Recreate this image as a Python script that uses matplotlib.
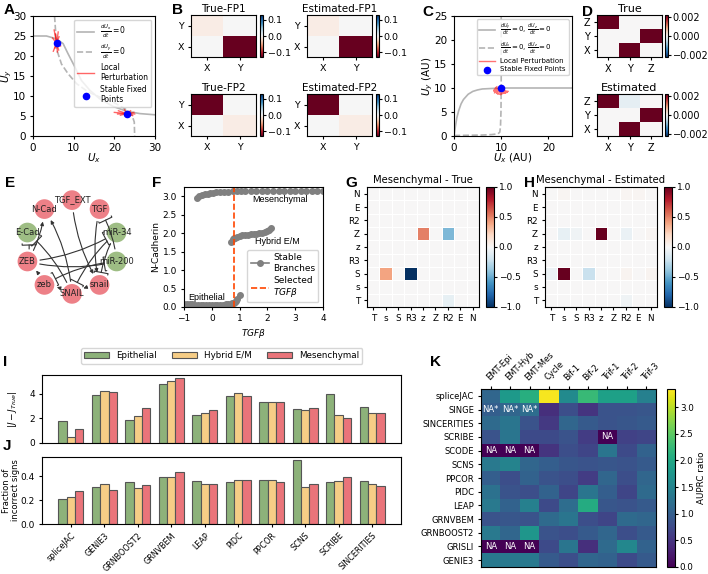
import matplotlib.pyplot as plt
import matplotlib.patches as mpatches
from matplotlib.lines import Line2D
import numpy as np

plt.rcParams['font.size'] = 7
plt.rcParams['xtick.major.size'] = 2.5
plt.rcParams['ytick.major.size'] = 2.5
plt.rcParams['xtick.major.pad'] = 2.5
plt.rcParams['ytick.major.pad'] = 2.5
plt.rcParams['axes.linewidth'] = 0.8

#------------------DATA------------------#

# A - nullclines (two-gene toggle switch)
a_solid_x = [0, 3.3, 5.75, 7.4, 8.6, 10.3, 11.9, 14.0, 16.4, 19.7, 23.0, 26.3, 30.0]
a_solid_y = [25, 25, 24.3, 23.1, 20.6, 17.25, 13.9, 11.4, 9.3, 7.4, 6.2, 5.6, 5.3]
a_dash_x = [5.3, 5.6, 5.9, 7.0, 8.6, 10.7, 13.6, 16.4, 19.7, 22.6, 24.2, 24.9, 25.0]
a_dash_y = [30, 25.6, 21.4, 18.0, 15.6, 13.1, 11.0, 9.75, 8.5, 6.8, 5.6, 3.5, 0]
a_fp_x = [5.8, 23.0]
a_fp_y = [23.2, 5.6]
a_pert_1 = [(5.2, 26.5), (6.2, 26.0), (5.0, 21.2), (6.3, 21.5), (4.8, 24.5), (6.8, 22.5),
            (5.5, 25.5), (6.0, 21.0), (5.4, 22.0), (6.4, 24.8)]
a_pert_2 = [(20.0, 5.9), (25.0, 5.5), (21.0, 6.3), (24.5, 5.1), (21.5, 5.2), (24.0, 6.3),
            (22.5, 6.6), (23.2, 4.9), (20.8, 5.5), (24.8, 5.9)]

# B - jacobians at the two fixed points (rows X, Y ; cols X, Y)
b_genes = ['X', 'Y']
b_true_fp1 = [[0.0, -0.2], [-0.01, 0.0]]
b_est_fp1 = [[0.0, -0.2], [-0.01, 0.0]]
b_true_fp2 = [[0.0, -0.01], [-0.2, 0.0]]
b_est_fp2 = [[0.0, -0.01], [-0.2, 0.0]]

# C - three-gene oscillator projection
c_solid_x = [0, 0.3, 0.6, 1.0, 1.5, 2.0, 3.0, 4.0, 5.0, 6.0, 8.0, 10.0, 15.0, 25.0]
c_solid_y = [0, 2.0, 3.8, 5.3, 6.7, 7.6, 8.7, 9.3, 9.6, 9.8, 9.9, 10.0, 10.0, 10.0]
c_dash_x = [0, 3.0, 6.0, 8.0, 9.3, 9.7, 9.85, 9.95, 10.0, 10.0]
c_dash_y = [0.1, 0.15, 0.2, 0.3, 0.45, 0.8, 2.0, 5.0, 10.0, 25.0]
c_fp = (10.0, 10.0)
c_pert_x = [8.6, 9.1, 8.4, 9.3, 8.9, 9.6, 10.4, 11.3, 10.6, 11.5, 10.2, 9.4, 8.8, 9.8, 10.9, 9.2,
            8.5, 9.9, 10.7, 9.0]
c_pert_y = [9.0, 10.3, 9.5, 8.7, 9.8, 9.1, 8.9, 9.1, 9.4, 9.3, 8.8, 9.6, 10.1, 9.2, 9.0, 9.9,
            9.3, 8.6, 9.7, 9.4]

# D - jacobian of the 3-gene circuit (rows X, Y, Z ; cols X, Y, Z)
d_genes = ['X', 'Y', 'Z']
d_true = [[0, 0.004, 0], [0, 0, 0.004], [0.004, 0, 0]]
d_est = [[0, 0.004, 0], [0, 0, 0.004], [0.004, -0.0002, 0]]

# E - EMT network
e_nodes = ['TGF_EXT', 'TGF', 'miR-34', 'miR-200', 'snail', 'SNAIL', 'zeb', 'ZEB', 'E-Cad', 'N-Cad']
e_green = ['miR-34', 'miR-200', 'E-Cad']
e_edges = [('TGF_EXT', 'snail', '+'), ('TGF', 'snail', '+'), ('miR-200', 'TGF', '-'),
           ('miR-34', 'snail', '-'), ('miR-34', 'SNAIL', '-'), ('SNAIL', 'N-Cad', '+'),
           ('SNAIL', 'E-Cad', '-'), ('ZEB', 'N-Cad', '+'), ('ZEB', 'E-Cad', '-'),
           ('ZEB', 'miR-200', '-'), ('miR-200', 'zeb', '-'), ('zeb', 'ZEB', '+'),
           ('SNAIL', 'zeb', '+'), ('snail', 'SNAIL', '+'), ('ZEB', 'miR-34', '-')]

# F - bifurcation diagram
f_mes_x = [-0.55, -0.45, -0.35, -0.25, -0.15, -0.05, 0.05, 0.15, 0.3, 0.45, 0.6, 0.75, 0.9,
           1.05, 1.2, 1.4, 1.6, 1.8, 2.0, 2.2, 2.4, 2.6, 2.8, 3.0, 3.2, 3.4, 3.6, 3.8, 4.0]
f_mes_y = [2.95, 3.0, 3.03, 3.05, 3.07, 3.085, 3.095, 3.105, 3.115, 3.12, 3.125, 3.13, 3.133,
           3.135, 3.137, 3.139, 3.14, 3.141, 3.142, 3.143, 3.144, 3.145, 3.146, 3.147, 3.148,
           3.149, 3.15, 3.15, 3.15]
f_hyb_x = [0.69, 0.76, 0.8, 0.85, 0.9, 1.0, 1.1, 1.2, 1.3, 1.4, 1.5, 1.6, 1.7, 1.8, 1.9,
           1.97, 2.05, 2.12]
f_hyb_y = [1.76, 1.83, 1.86, 1.88, 1.9, 1.92, 1.94, 1.95, 1.96, 1.97, 1.98, 1.99, 2.0, 2.01,
           2.03, 2.05, 2.09, 2.13]
f_epi_x = [-1.0, -0.9, -0.8, -0.7, -0.6, -0.5, -0.4, -0.3, -0.2, -0.1, 0.0, 0.1, 0.2, 0.3,
           0.4, 0.5, 0.6, 0.68, 0.74, 0.79, 0.83, 0.87, 0.91, 1.0]
f_epi_y = [0.08, 0.075, 0.07, 0.068, 0.065, 0.062, 0.06, 0.058, 0.056, 0.055, 0.055, 0.056,
           0.058, 0.06, 0.065, 0.07, 0.08, 0.09, 0.1, 0.12, 0.14, 0.17, 0.21, 0.32]
f_tgf = 0.8

# G, H - mesenchymal jacobian (rows/cols T, s, S, R3, z, Z, R2, E, N ; row 0 at bottom)
gh_genes = ['T', 's', 'S', 'R3', 'z', 'Z', 'R2', 'E', 'N']
g_true = [[0, 0, 0, 0, 0, 0, -0.08, 0, 0],
          [0, 0, 0, 0, 0, 0, 0, 0, 0],
          [0, 0.4, 0, -1.0, 0, 0, 0, 0, 0],
          [0, 0, 0, 0, 0, 0, 0, 0, 0],
          [0, 0, 0, 0, 0, 0, 0, 0, 0],
          [0, 0, 0, 0, 0.5, 0, -0.45, 0, 0],
          [0, 0, 0, 0, 0, 0, 0, 0, 0],
          [0, 0, 0, 0, 0, 0, 0, 0, 0],
          [0, 0, 0, 0, 0, 0, 0, 0, 0]]
h_est = [[0, 0, 0, 0, 0, 0, -0.04, 0, 0],
         [0, 0, 0, 0, 0, 0, 0, 0, 0],
         [-0.06, 1.0, 0, -0.22, 0, 0, 0.03, 0, 0.03],
         [0, 0, 0, 0, 0, 0, 0, 0, 0],
         [0, 0, 0, 0, 0, 0, 0, 0, 0],
         [0, -0.08, -0.04, 0, 1.0, 0, -0.07, 0, 0.02],
         [0, 0, 0, 0, 0, 0, 0, 0, 0],
         [0, 0, 0, 0, 0, 0, 0, 0, 0],
         [0, 0.02, 0, 0, 0, 0, 0.02, 0.02, 0]]

# I, J - method comparison
methods = ['spliceJAC', 'GENIE3', 'GRNBOOST2', 'GRNVBEM', 'LEAP', 'PIDC', 'PPCOR', 'SCNS',
           'SCRIBE', 'SINCERITIES']
states = ['Epithelial', 'Hybrid E/M', 'Mesenchymal']
i_epi = [1.81, 3.89, 1.89, 4.74, 2.30, 3.81, 3.34, 2.78, 4.0, 2.93]
i_hyb = [0.49, 4.19, 2.22, 5.04, 2.41, 4.05, 3.32, 2.65, 2.28, 2.43]
i_mes = [1.15, 4.11, 2.82, 5.29, 2.68, 3.78, 3.29, 2.86, 2.06, 2.42]
j_epi = [0.208, 0.311, 0.347, 0.397, 0.358, 0.347, 0.369, 0.533, 0.347, 0.358]
j_hyb = [0.222, 0.336, 0.297, 0.397, 0.336, 0.369, 0.369, 0.31, 0.358, 0.333]
j_mes = [0.272, 0.283, 0.322, 0.433, 0.336, 0.369, 0.347, 0.333, 0.394, 0.32]

# K - AUPRC ratio
k_cols = ['EMT-Epi', 'EMT-Hyb', 'EMT-Mes', 'Cycle', 'Bif-1', 'Bif-2', 'Trif-1', 'Trif-2', 'Trif-3']
k_rows = ['spliceJAC', 'SINGE', 'SINCERITIES', 'SCRIBE', 'SCODE', 'SCNS', 'PPCOR', 'PIDC',
          'LEAP', 'GRNVBEM', 'GRNBOOST2', 'GRISLI', 'GENIE3']
k_vals = [[1.1, 1.8, 2.1, 3.3, 1.6, 2.25, 1.9, 1.9, 1.45],
          [1.0, 1.1, 1.2, 0.45, 0.8, 0.5, 0.85, 0.85, 0.9],
          [1.15, 1.3, 0.85, 0.55, 1.1, 0.95, 0.85, 0.9, 0.95],
          [0.85, 1.3, 0.75, 0.75, 0.85, 0.6, 0.0, 0.65, 0.7],
          [0.0, 0.0, 0.0, 0.5, 0.8, 0.7, 1.3, 0.75, 1.05],
          [1.35, 1.5, 1.1, 1.0, 0.9, 0.85, 0.9, 0.85, 0.95],
          [1.0, 0.8, 1.05, 0.85, 0.8, 0.6, 1.1, 0.8, 1.1],
          [1.25, 0.85, 0.8, 1.05, 0.7, 1.3, 1.0, 0.7, 1.15],
          [1.35, 1.05, 1.45, 0.75, 1.2, 2.05, 0.9, 0.85, 0.95],
          [0.85, 0.9, 0.85, 1.15, 1.3, 0.8, 0.7, 1.15, 1.1],
          [1.35, 1.1, 1.75, 0.85, 0.8, 0.95, 1.1, 0.8, 0.95],
          [0.0, 0.0, 0.0, 0.75, 1.3, 0.45, 1.15, 1.55, 1.05],
          [1.35, 1.35, 1.35, 0.95, 0.8, 1.1, 1.05, 0.75, 0.95]]
k_na = [(1, 0, 'NA*'), (1, 1, 'NA*'), (1, 2, 'NA*'), (3, 6, 'NA'), (4, 0, 'NA'),
        (4, 1, 'NA'), (4, 2, 'NA'), (11, 0, 'NA'), (11, 1, 'NA'), (11, 2, 'NA')]

#------------------LAYOUT------------------#

W, H = 708, 574
fig = plt.figure(figsize=(W / 100, H / 100), dpi=100)


def box(x0, y0, x1, y1):
    return [x0 / W, 1 - y1 / H, (x1 - x0) / W, (y1 - y0) / H]


def letter(x, y, s):
    fig.text(x / W, 1 - y / H, s, fontsize=11, fontweight='bold', family='Liberation Sans',
             ha='left', va='center')


gray = '#b4b4b4'

#------------------A------------------#
ax = fig.add_axes(box(33, 16, 155, 136))
ax.plot(a_solid_x, a_solid_y, color=gray, lw=1.2, label=r'$\frac{dU_x}{dt}=0$')
ax.plot(a_dash_x, a_dash_y, color=gray, lw=1.2, ls='--', label=r'$\frac{dU_y}{dt}=0$')
first = True
for fx, fy, ends in [(a_fp_x[0], a_fp_y[0], a_pert_1), (a_fp_x[1], a_fp_y[1], a_pert_2)]:
    for ex, ey in ends:
        ax.plot([fx, ex], [fy, ey], color='red', alpha=0.6, lw=1.0,
                label='Local\nPerturbation' if first else None)
        first = False
ax.scatter(a_fp_x, a_fp_y, color='blue', s=20, zorder=5, label='Stable Fixed\nPoints')
ax.set_xlim(0, 30)
ax.set_ylim(0, 30)
ax.set_xticks([0, 10, 20, 30])
ax.set_yticks([0, 5, 10, 15, 20, 25, 30])
ax.tick_params(labelsize=7.5)
ax.set_xlabel('$U_x$', fontsize=7.5)
ax.set_ylabel('$U_y$', fontsize=7.5)
ax.xaxis.set_label_coords(0.5, -0.13)
ax.yaxis.set_label_coords(-0.155, 0.5)
ax.legend(loc='upper right', fontsize=5.5, handlelength=2.2, labelspacing=0.3,
          borderpad=0.4, framealpha=0.8)
letter(4, 10, 'A')

#------------------B------------------#
b_panels = [(b_true_fp1, 'True-FP1', 191, 15), (b_est_fp1, 'Estimated-FP1', 307, 15),
            (b_true_fp2, 'True-FP2', 191, 94), (b_est_fp2, 'Estimated-FP2', 307, 94)]
for mat, title, x0, y0 in b_panels:
    ax = fig.add_axes(box(x0, y0, x0 + 65, y0 + 42))
    im = ax.imshow(mat, cmap='RdBu', vmin=-0.13, vmax=0.13, origin='lower', aspect='auto')
    ax.set_xticks([0, 1])
    ax.set_xticklabels(b_genes)
    ax.set_yticks([0, 1])
    ax.set_yticklabels(b_genes)
    ax.tick_params(labelsize=6.8)
    ax.set_title(title, fontsize=7.5, pad=2)
    cax = fig.add_axes(box(x0 + 69, y0, x0 + 72, y0 + 42))
    cb = fig.colorbar(im, cax=cax, ticks=[-0.1, 0.0, 0.1])
    cb.ax.set_yticklabels(['\u22120.1', '0.0', '0.1'])
    cb.ax.tick_params(labelsize=6.8, length=2, pad=1.5)
letter(172, 10, 'B')

#------------------C------------------#
ax = fig.add_axes(box(454, 16, 572, 136))
ax.plot(c_solid_x, c_solid_y, color=gray, lw=1.2,
        label=r'$\frac{dU_y}{dt}=0,\,\frac{dU_z}{dt}=0$')
ax.plot(c_dash_x, c_dash_y, color=gray, lw=1.2, ls='--',
        label=r'$\frac{dU_x}{dt}=0,\,\frac{dU_z}{dt}=0$')
ax.plot(c_pert_x, c_pert_y, color='red', alpha=0.55, lw=1.0, label='Local Perturbation')
ax.scatter([c_fp[0]], [c_fp[1]], color='blue', s=20, zorder=5, label='Stable Fixed Points')
ax.set_xlim(0, 25)
ax.set_ylim(0, 25)
ax.set_xticks([0, 10, 20])
ax.set_yticks([0, 5, 10, 15, 20, 25])
ax.tick_params(labelsize=7.5)
ax.set_xlabel('$U_x$ (AU)', fontsize=7.5)
ax.set_ylabel('$U_y$ (AU)', fontsize=7.5)
ax.xaxis.set_label_coords(0.5, -0.13)
ax.yaxis.set_label_coords(-0.16, 0.5)
ax.legend(loc='upper right', fontsize=5, handlelength=2.2, labelspacing=0.3,
          borderpad=0.4, framealpha=0.8)
letter(422, 12, 'C')

#------------------D------------------#
for mat, title, y0 in [(d_true, 'True', 15), (d_est, 'Estimated', 94)]:
    ax = fig.add_axes(box(597, y0, 662, y0 + 42))
    im = ax.imshow(mat, cmap='RdBu_r', vmin=-0.0022, vmax=0.0022, origin='lower', aspect='auto')
    ax.set_xticks([0, 1, 2])
    ax.set_xticklabels(d_genes)
    ax.set_yticks([0, 1, 2])
    ax.set_yticklabels(d_genes)
    ax.tick_params(labelsize=7)
    ax.set_title(title, fontsize=8, pad=2)
    cax = fig.add_axes(box(665, y0, 668, y0 + 42))
    cb = fig.colorbar(im, cax=cax, ticks=[-0.002, 0.0, 0.002])
    cb.ax.set_yticklabels(['\u22120.002', '0.000', '0.002'])
    cb.ax.tick_params(labelsize=7, length=2, pad=1.5)
letter(582, 12, 'D')

#------------------E------------------#
ax = fig.add_axes(box(12, 187, 132, 307))
ang = np.deg2rad(90 - 36 * np.arange(len(e_nodes)))
pos = {n: (np.cos(a), np.sin(a)) for n, a in zip(e_nodes, ang)}
circ = {}
for n in e_nodes:
    c = '#8db26e' if n in e_green else '#ea6a72'
    circ[n] = mpatches.Circle(pos[n], 0.21, facecolor=c, edgecolor='none', alpha=0.85, zorder=2)
    ax.add_patch(circ[n])
    ax.text(pos[n][0], pos[n][1], n, fontsize=6, ha='center', va='center', zorder=4,
            color='#222222')
for s, t, kind in e_edges:
    style = '-|>' if kind == '+' else '-['
    arr = mpatches.FancyArrowPatch(pos[s], pos[t], patchA=circ[s], patchB=circ[t],
                                   arrowstyle=style, connectionstyle='arc3,rad=0.12',
                                   mutation_scale=5, lw=0.8, color='#333333', zorder=3)
    ax.add_patch(arr)
ax.set_xlim(-1.28, 1.28)
ax.set_ylim(-1.28, 1.28)
ax.set_aspect('equal')
ax.axis('off')
letter(5, 183, 'E')

#------------------F------------------#
ax = fig.add_axes(box(184, 187, 323, 307))
for bx, by in [(f_mes_x, f_mes_y), (f_hyb_x, f_hyb_y), (f_epi_x, f_epi_y)]:
    ax.plot(bx, by, color='gray', marker='o', markersize=4, lw=1.2)
ax.axvline(f_tgf, color='orangered', ls='--', lw=1.2)
ax.text(2.45, 2.92, 'Mesenchymal', fontsize=6.5, family='Liberation Sans', ha='center', va='center')
ax.text(2.35, 1.78, 'Hybrid E/M', fontsize=6.5, family='Liberation Sans', ha='center', va='center')
ax.text(-0.17, 0.27, 'Epithelial', fontsize=6.5, family='Liberation Sans', ha='center', va='center')
ax.set_xlim(-1, 4)
ax.set_ylim(0, 3.25)
ax.set_xticks([-1, 0, 1, 2, 3, 4])
ax.set_yticks([0, 0.5, 1.0, 1.5, 2.0, 2.5, 3.0])
ax.tick_params(labelsize=6.5)
ax.set_xlabel(r'$TGF\beta$', fontsize=6.5, labelpad=3)
ax.set_ylabel('N-Cadherin', fontsize=6.5, labelpad=2)
handles = [Line2D([], [], color='gray', marker='o', markersize=4, lw=1.2),
           Line2D([], [], color='orangered', ls='--', lw=1.2)]
ax.legend(handles, ['Stable\nBranches', 'Selected\n' + r'$TGF\beta$'], loc='lower right',
          fontsize=6.5, handlelength=2, labelspacing=0.3, borderpad=0.35, handletextpad=0.5)
letter(152, 183, 'F')

#------------------G, H------------------#
for mat, title, x0, lab, lx in [(g_true, 'Mesenchymal - True', 367, 'G', 345),
                                (h_est, 'Mesenchymal - Estimated', 545, 'H', 524)]:
    ax = fig.add_axes(box(x0, 187, x0 + 112, 307))
    im = ax.pcolormesh(np.array(mat), cmap='RdBu_r', vmin=-1, vmax=1,
                       edgecolors='white', linewidth=0.6)
    ax.set_xticks(np.arange(len(gh_genes)) + 0.5)
    ax.set_xticklabels(gh_genes)
    ax.set_yticks(np.arange(len(gh_genes)) + 0.5)
    ax.set_yticklabels(gh_genes)
    ax.tick_params(labelsize=6.3)
    ax.set_title(title, fontsize=7.2, pad=3)
    cax = fig.add_axes(box(x0 + 119, 187, x0 + 127, 307))
    cb = fig.colorbar(im, cax=cax, ticks=[-1, -0.5, 0, 0.5, 1])
    cb.ax.set_yticklabels(['\u22121.0', '\u22120.5', '0.0', '0.5', '1.0'])
    cb.ax.tick_params(labelsize=6.5, length=2, pad=1.5)
    letter(lx, 183, lab)

#------------------I, J------------------#
bar_cols = ['#8db27a', '#f6cd86', '#ea747a']
xs = np.arange(len(methods))
ax_i = fig.add_axes(box(42, 375, 401, 443))
ax_j = fig.add_axes(box(42, 457, 401, 524))
for k, (vi, vj) in enumerate([(i_epi, j_epi), (i_hyb, j_hyb), (i_mes, j_mes)]):
    ax_i.bar(xs + (k - 1) * 0.25, vi, width=0.25, color=bar_cols[k], edgecolor='#555555',
             lw=0.8, label=states[k])
    ax_j.bar(xs + (k - 1) * 0.25, vj, width=0.25, color=bar_cols[k], edgecolor='#555555',
             lw=0.8)
ax_i.set_ylim(0, 5.5)
ax_i.set_yticks([0, 2, 4])
ax_i.set_xticks(xs)
ax_i.set_xticklabels([])
ax_i.tick_params(axis='x', length=0)
ax_i.tick_params(labelsize=6.5)
ax_i.set_ylabel(r'$|J - J_{True}|$', fontsize=6.5)
ax_i.yaxis.set_label_coords(-0.065, 0.5)
ax_i.legend(loc='lower center', bbox_to_anchor=(0.5, 1.1), ncol=3, fontsize=6.3,
            handlelength=2.8, columnspacing=1.8, borderpad=0.4)
ax_j.set_ylim(0, 0.56)
ax_j.set_yticks([0, 0.2, 0.4])
ax_j.set_xlim(ax_i.get_xlim())
ax_j.set_xticks(xs)
ax_j.set_xticklabels(methods, rotation=45, ha='right', rotation_mode='anchor')
ax_j.tick_params(axis='y', labelsize=6.5)
ax_j.tick_params(axis='x', labelsize=5.8)
ax_j.set_ylabel('Fraction of\nincorrect signs', fontsize=6, linespacing=0.95)
ax_j.yaxis.set_label_coords(-0.062, 0.5)
letter(3, 362, 'I')
letter(3, 446, 'J')

#------------------K------------------#
ax = fig.add_axes(box(481, 389, 656, 567))
im = ax.imshow(k_vals, cmap='viridis', vmin=0, vmax=3.34, aspect='auto')
for r, c, s in k_na:
    ax.text(c, r, s, color='white', fontsize=6, ha='center', va='center')
ax.xaxis.tick_top()
ax.set_xticks(np.arange(len(k_cols)))
ax.set_xticklabels(k_cols, rotation=45, ha='left', rotation_mode='anchor')
ax.set_yticks(np.arange(len(k_rows)))
ax.set_yticklabels(k_rows)
ax.tick_params(labelsize=6)
cax = fig.add_axes(box(667, 389, 675, 567))
cb = fig.colorbar(im, cax=cax, ticks=[0, 0.5, 1.0, 1.5, 2.0, 2.5, 3.0])
cb.ax.tick_params(labelsize=6.3, length=2, pad=1.5)
cb.set_label('AUPRC ratio', fontsize=6.3, labelpad=2)
letter(430, 362, 'K')

plt.savefig('out.png', dpi=100)
